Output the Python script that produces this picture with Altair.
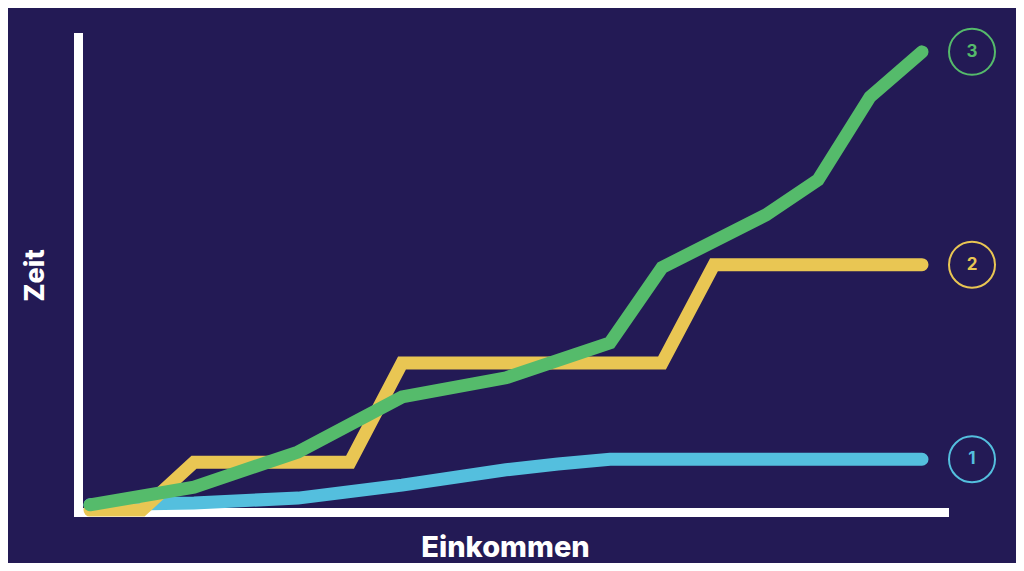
import altair as alt
import pandas as pd

# income steps (x) and time values (y, 0-100) for the three series
green_x = [0, 2, 4, 6, 8, 10, 11, 13, 14, 15, 16]
green_y = [1.5, 5.2, 12.5, 24, 28, 35.3, 51, 62, 69.3, 86.6, 96]
yellow_x = [0, 1, 2, 5, 6, 11, 12, 16]
yellow_y = [0.4, 0.4, 10.4, 10.4, 31.1, 31.1, 51.6, 51.6]
blue_x = [0, 2, 4, 6, 8, 9, 10, 16]
blue_y = [1.5, 1.9, 2.9, 5.6, 8.8, 10, 11, 11]

series_names = ["1", "2", "3"]
series_colors = ["#54bfde", "#e9c653", "#55bb6b"]

BG = "#231a55"

records = []
for name, xs, ys in [("1", blue_x, blue_y), ("2", yellow_x, yellow_y), ("3", green_x, green_y)]:
    for i, (x, y) in enumerate(zip(xs, ys)):
        records.append({"serie": name, "step": x, "zeit": y, "order": i})
df = pd.DataFrame(records)
ends = df.sort_values("order").groupby("serie").tail(1)

x_scale = alt.Scale(domain=[-0.2308, 16.423], nice=False, zero=False)
y_scale = alt.Scale(domain=[0, 99.1], nice=False, zero=False)
color = alt.Color("serie:N", scale=alt.Scale(domain=series_names, range=series_colors), legend=None)

x_enc = alt.X(
    "step:Q", scale=x_scale,
    axis=alt.Axis(
        title="Einkommen", labels=False, ticks=False, grid=False,
        domainColor="white", domainWidth=9, domainCap="square",
        titleColor="white", titleFontSize=29, titleFontWeight=800, titleFont="Inter",
        titleX=427, titleY=35, titleAlign="center", titleBaseline="middle",
    ),
)
y_enc = alt.Y(
    "zeit:Q", scale=y_scale,
    axis=alt.Axis(
        title="Zeit", labels=False, ticks=False, grid=False,
        domainColor="white", domainWidth=9, domainCap="square",
        titleColor="white", titleFontSize=27, titleFontWeight=800, titleFont="Inter",
        titleX=-43, titleY=238, titleAngle=-90, titleAlign="center", titleBaseline="middle",
    ),
)

lines = alt.Chart(df).mark_line(strokeWidth=13, strokeCap="round").encode(
    x=x_enc, y=y_enc, color=color, order="order:Q"
)

rings = alt.Chart(ends).mark_point(
    shape="circle", size=2116, filled=False, strokeWidth=2, opacity=1, xOffset=50
).encode(x="step:Q", y="zeit:Q", color=color)

nums = alt.Chart(ends).mark_text(
    dx=50, fontSize=17, fontWeight="bold", font="Inter", baseline="middle", align="center"
).encode(x="step:Q", y="zeit:Q", text="serie:N", color=color)

chart = (lines + rings + nums).properties(
    width=866, height=475,
    autosize=alt.AutoSizeParams(type="none"),
    padding={"left": 70, "top": 29, "right": 72, "bottom": 51},
    background=BG,
).configure_view(stroke=None)

chart.save("out.html", embed_options={"renderer": "svg", "actions": False})
